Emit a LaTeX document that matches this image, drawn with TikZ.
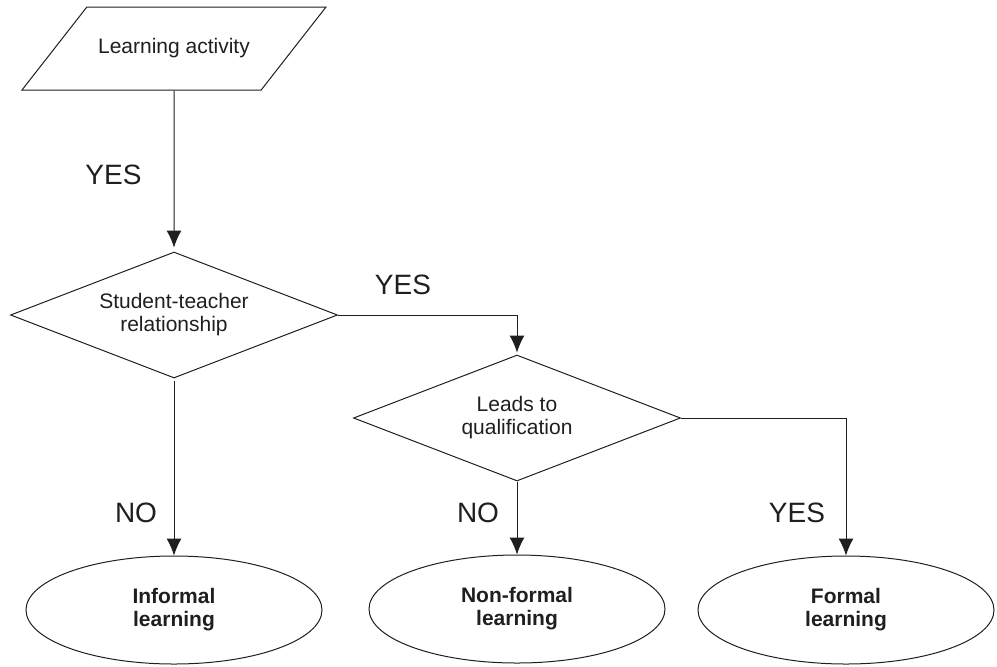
\documentclass[tikz,border=0pt]{standalone}
\usepackage{fontspec}
\setmainfont{Liberation Sans}
\usetikzlibrary{shapes.geometric,arrows.meta}

\begin{document}
\begin{tikzpicture}[
		x=0.5pt, y=-0.5pt,
		box/.style={draw=ink, line width=0.5pt, text=ink, align=center,
			font=\fontsize{10.5}{11.5}\selectfont},
		inbox/.style={box, trapezium, trapezium left angle=52, trapezium right angle=128,
			trapezium stretches body=true, minimum width=152pt,
			text height=7.5pt, text depth=2.5pt, inner xsep=1pt, inner ysep=15.75pt},
		test/.style={box, diamond, aspect=2.6, minimum width=163.5pt, minimum height=63pt, inner sep=1pt},
		outcome/.style={box, ellipse, minimum width=148pt, minimum height=54pt, inner sep=1pt,
			font=\fontsize{10.5}{11.5}\selectfont\bfseries},
		flow/.style={draw=ink, line width=0.5pt, -{Latex[length=8.5pt,width=7.5pt]}},
		answer/.style={text=ink, font=\fontsize{14}{16}\selectfont, inner sep=0pt}
		]
		
		% ==========================================
		% COLOURS AND CANVAS
		% ==========================================
		\colorlet{ink}{black!88}
		\useasboundingbox (0,0) rectangle (997,666);
		
		% ==========================================
		% SHAPES
		% ==========================================
		\node[inbox] (act) at (174, 48.5) {Learning activity};
		\node[test] (rel) at (174, 315) {Student-teacher\\relationship};
		\node[test] (qual) at (517, 418) {Leads to\\qualification};
		
		% Outcomes along the bottom row
		\node[outcome] (inf) at (174, 610) {Informal\\learning};
		\node[outcome] (nonf) at (517, 609) {Non-formal\\learning};
		\node[outcome] (form) at (846, 610) {Formal\\learning};
		
		% ==========================================
		% CONNECTORS
		% ==========================================
		\draw[flow, shorten >=2pt] (act.south) -- (rel.north);
		\draw[flow, shorten >=1pt] (rel.east) -| (qual.north);
		\draw[flow, shorten <=1pt] (rel.south) -- (inf.north);
		\draw[flow] (qual.south) -- (nonf.north);
		\draw[flow] (qual.east) -| (form.north);
		
		% Answer labels
		\node[answer] (y1) at (113.5, 175) {YES};
		\node[answer] (y2) at (403, 285) {YES};
		\node[answer] (n1) at (136, 513) {NO};
		\node[answer] (n2) at (478, 513) {NO};
		\node[answer] (y3) at (797, 513) {YES};
		
	\end{tikzpicture}
\end{document}
